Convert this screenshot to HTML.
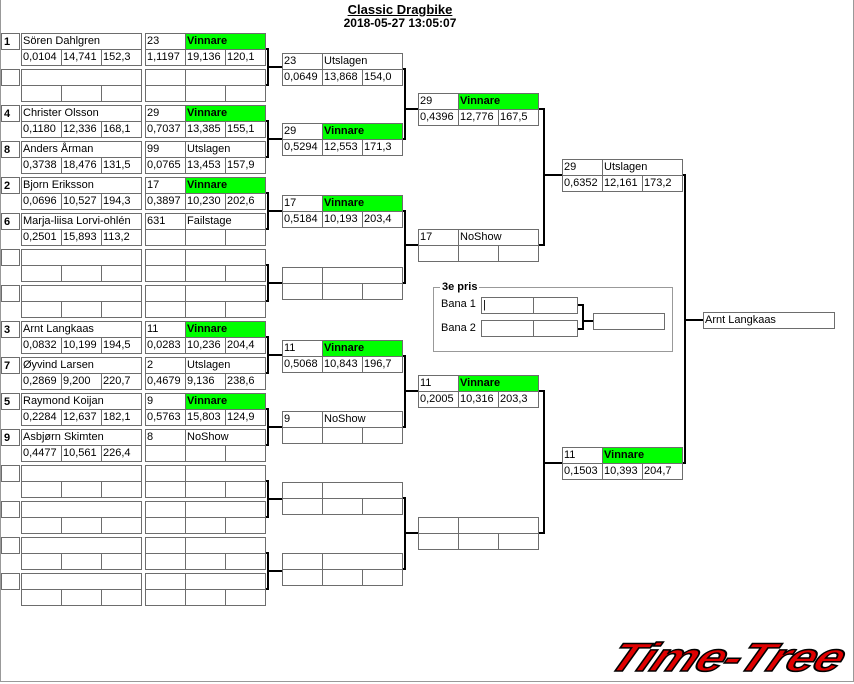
<!DOCTYPE html>
<html><head><meta charset="utf-8"><style>
body{margin:0;width:854px;height:684px;position:relative;background:#fff;font-family:"Liberation Sans",sans-serif;font-size:11px;overflow:hidden}
.fr{position:absolute;left:0;top:0;width:852px;height:681px;border-left:1px solid #999;border-right:1px solid #999;border-bottom:1px solid #999}
table{position:absolute;border-collapse:collapse;table-layout:fixed;width:121px}
col{width:40px}
td{border:1px solid #6d6d6d;height:15px;padding:0 0 0 1px;white-space:nowrap;overflow:hidden;line-height:15px}
td.g{background:#00ff00;font-weight:bold}
.s{position:absolute;left:1px;border:1px solid #6d6d6d;font-weight:bold;line-height:16px;padding-left:2px;box-sizing:border-box;width:19px;height:17px}
.t{position:absolute;left:0;width:800px;text-align:center;font-weight:bold;font-size:12px}
svg{position:absolute;left:0;top:0}
</style></head><body>
<div class="fr"></div>
<div class="t" style="top:2px;text-decoration:underline;font-size:13px">Classic Dragbike</div>
<div class="t" style="top:16px">2018-05-27 13:05:07</div>
<svg width="854" height="684">
<g stroke="#000" stroke-width="2" fill="none">
<path d="M266 49H268V85H266M268 67H282"/>
<path d="M266 121H268V157H266M268 139H282"/>
<path d="M266 193H268V229H266M268 211H282"/>
<path d="M266 265H268V301H266M268 283H282"/>
<path d="M266 337H268V373H266M268 355H282"/>
<path d="M266 409H268V445H266M268 427H282"/>
<path d="M266 481H268V517H266M268 499H282"/>
<path d="M266 553H268V589H266M268 571H282"/>
<path d="M402 69H405V139H402M405 109H418"/>
<path d="M402 211H405V283H402M405 245H418"/>
<path d="M402 356H405V427H402M405 391H418"/>
<path d="M402 498H405V569H402M405 533H418"/>
<path d="M538 109H544V245H538M544 175H562"/>
<path d="M538 391H544V533H538M544 463H562"/>
<path d="M682 175H685V463H682M685 320H703"/>
<path d="M578 305H583V329H578M583 321H593"/>
</g>
<rect x="433.5" y="287.5" width="239" height="64" fill="none" stroke="#999"/>
</svg>
<div style="position:absolute;left:440px;top:281px;background:#fff;font-weight:bold;font-size:11px;padding:0 2px">3e pris</div>
<div style="position:absolute;left:441px;top:298px">Bana 1</div>
<div style="position:absolute;left:441px;top:322px">Bana 2</div>
<table style="left:481px;top:297px;width:97px"><colgroup><col style="width:48px"><col></colgroup><tr><td>|</td><td></td></tr></table>
<table style="left:481px;top:320px;width:97px"><colgroup><col style="width:48px"><col></colgroup><tr><td></td><td></td></tr></table>
<table style="left:593px;top:313px;width:72px"><tr><td></td></tr></table>
<table style="left:703px;top:312px;width:132px"><tr><td>Arnt Langkaas</td></tr></table>

<div class="s" style="top:33px">1</div><div class="s" style="top:69px"></div>
<div class="s" style="top:105px">4</div><div class="s" style="top:141px">8</div>
<div class="s" style="top:177px">2</div><div class="s" style="top:213px">6</div>
<div class="s" style="top:249px"></div><div class="s" style="top:285px"></div>
<div class="s" style="top:321px">3</div><div class="s" style="top:357px">7</div>
<div class="s" style="top:393px">5</div><div class="s" style="top:429px">9</div>
<div class="s" style="top:465px"></div><div class="s" style="top:501px"></div>
<div class="s" style="top:537px"></div><div class="s" style="top:573px"></div>

<table style="left:21px;top:33px"><colgroup><col><col><col></colgroup><tr><td colspan="3">Sören Dahlgren</td></tr><tr><td>0,0104</td><td>14,741</td><td>152,3</td></tr></table>
<table style="left:21px;top:69px"><colgroup><col><col><col></colgroup><tr><td colspan="3"></td></tr><tr><td></td><td></td><td></td></tr></table>
<table style="left:21px;top:105px"><colgroup><col><col><col></colgroup><tr><td colspan="3">Christer Olsson</td></tr><tr><td>0,1180</td><td>12,336</td><td>168,1</td></tr></table>
<table style="left:21px;top:141px"><colgroup><col><col><col></colgroup><tr><td colspan="3">Anders Årman</td></tr><tr><td>0,3738</td><td>18,476</td><td>131,5</td></tr></table>
<table style="left:21px;top:177px"><colgroup><col><col><col></colgroup><tr><td colspan="3">Bjorn Eriksson</td></tr><tr><td>0,0696</td><td>10,527</td><td>194,3</td></tr></table>
<table style="left:21px;top:213px"><colgroup><col><col><col></colgroup><tr><td colspan="3">Marja-liisa Lorvi-ohlén</td></tr><tr><td>0,2501</td><td>15,893</td><td>113,2</td></tr></table>
<table style="left:21px;top:249px"><colgroup><col><col><col></colgroup><tr><td colspan="3"></td></tr><tr><td></td><td></td><td></td></tr></table>
<table style="left:21px;top:285px"><colgroup><col><col><col></colgroup><tr><td colspan="3"></td></tr><tr><td></td><td></td><td></td></tr></table>
<table style="left:21px;top:321px"><colgroup><col><col><col></colgroup><tr><td colspan="3">Arnt Langkaas</td></tr><tr><td>0,0832</td><td>10,199</td><td>194,5</td></tr></table>
<table style="left:21px;top:357px"><colgroup><col><col><col></colgroup><tr><td colspan="3">Øyvind Larsen</td></tr><tr><td>0,2869</td><td>9,200</td><td>220,7</td></tr></table>
<table style="left:21px;top:393px"><colgroup><col><col><col></colgroup><tr><td colspan="3">Raymond Koijan</td></tr><tr><td>0,2284</td><td>12,637</td><td>182,1</td></tr></table>
<table style="left:21px;top:429px"><colgroup><col><col><col></colgroup><tr><td colspan="3">Asbjørn Skimten</td></tr><tr><td>0,4477</td><td>10,561</td><td>226,4</td></tr></table>
<table style="left:21px;top:465px"><colgroup><col><col><col></colgroup><tr><td colspan="3"></td></tr><tr><td></td><td></td><td></td></tr></table>
<table style="left:21px;top:501px"><colgroup><col><col><col></colgroup><tr><td colspan="3"></td></tr><tr><td></td><td></td><td></td></tr></table>
<table style="left:21px;top:537px"><colgroup><col><col><col></colgroup><tr><td colspan="3"></td></tr><tr><td></td><td></td><td></td></tr></table>
<table style="left:21px;top:573px"><colgroup><col><col><col></colgroup><tr><td colspan="3"></td></tr><tr><td></td><td></td><td></td></tr></table>

<table style="left:145px;top:33px"><colgroup><col><col><col></colgroup><tr><td>23</td><td colspan="2" class="g">Vinnare</td></tr><tr><td>1,1197</td><td>19,136</td><td>120,1</td></tr></table>
<table style="left:145px;top:69px"><colgroup><col><col><col></colgroup><tr><td></td><td colspan="2"></td></tr><tr><td></td><td></td><td></td></tr></table>
<table style="left:145px;top:105px"><colgroup><col><col><col></colgroup><tr><td>29</td><td colspan="2" class="g">Vinnare</td></tr><tr><td>0,7037</td><td>13,385</td><td>155,1</td></tr></table>
<table style="left:145px;top:141px"><colgroup><col><col><col></colgroup><tr><td>99</td><td colspan="2">Utslagen</td></tr><tr><td>0,0765</td><td>13,453</td><td>157,9</td></tr></table>
<table style="left:145px;top:177px"><colgroup><col><col><col></colgroup><tr><td>17</td><td colspan="2" class="g">Vinnare</td></tr><tr><td>0,3897</td><td>10,230</td><td>202,6</td></tr></table>
<table style="left:145px;top:213px"><colgroup><col><col><col></colgroup><tr><td>631</td><td colspan="2">Failstage</td></tr><tr><td></td><td></td><td></td></tr></table>
<table style="left:145px;top:249px"><colgroup><col><col><col></colgroup><tr><td></td><td colspan="2"></td></tr><tr><td></td><td></td><td></td></tr></table>
<table style="left:145px;top:285px"><colgroup><col><col><col></colgroup><tr><td></td><td colspan="2"></td></tr><tr><td></td><td></td><td></td></tr></table>
<table style="left:145px;top:321px"><colgroup><col><col><col></colgroup><tr><td>11</td><td colspan="2" class="g">Vinnare</td></tr><tr><td>0,0283</td><td>10,236</td><td>204,4</td></tr></table>
<table style="left:145px;top:357px"><colgroup><col><col><col></colgroup><tr><td>2</td><td colspan="2">Utslagen</td></tr><tr><td>0,4679</td><td>9,136</td><td>238,6</td></tr></table>
<table style="left:145px;top:393px"><colgroup><col><col><col></colgroup><tr><td>9</td><td colspan="2" class="g">Vinnare</td></tr><tr><td>0,5763</td><td>15,803</td><td>124,9</td></tr></table>
<table style="left:145px;top:429px"><colgroup><col><col><col></colgroup><tr><td>8</td><td colspan="2">NoShow</td></tr><tr><td></td><td></td><td></td></tr></table>
<table style="left:145px;top:465px"><colgroup><col><col><col></colgroup><tr><td></td><td colspan="2"></td></tr><tr><td></td><td></td><td></td></tr></table>
<table style="left:145px;top:501px"><colgroup><col><col><col></colgroup><tr><td></td><td colspan="2"></td></tr><tr><td></td><td></td><td></td></tr></table>
<table style="left:145px;top:537px"><colgroup><col><col><col></colgroup><tr><td></td><td colspan="2"></td></tr><tr><td></td><td></td><td></td></tr></table>
<table style="left:145px;top:573px"><colgroup><col><col><col></colgroup><tr><td></td><td colspan="2"></td></tr><tr><td></td><td></td><td></td></tr></table>

<table style="left:282px;top:53px"><colgroup><col><col><col></colgroup><tr><td>23</td><td colspan="2">Utslagen</td></tr><tr><td>0,0649</td><td>13,868</td><td>154,0</td></tr></table>
<table style="left:282px;top:123px"><colgroup><col><col><col></colgroup><tr><td>29</td><td colspan="2" class="g">Vinnare</td></tr><tr><td>0,5294</td><td>12,553</td><td>171,3</td></tr></table>
<table style="left:282px;top:195px"><colgroup><col><col><col></colgroup><tr><td>17</td><td colspan="2" class="g">Vinnare</td></tr><tr><td>0,5184</td><td>10,193</td><td>203,4</td></tr></table>
<table style="left:282px;top:267px"><colgroup><col><col><col></colgroup><tr><td></td><td colspan="2"></td></tr><tr><td></td><td></td><td></td></tr></table>
<table style="left:282px;top:340px"><colgroup><col><col><col></colgroup><tr><td>11</td><td colspan="2" class="g">Vinnare</td></tr><tr><td>0,5068</td><td>10,843</td><td>196,7</td></tr></table>
<table style="left:282px;top:411px"><colgroup><col><col><col></colgroup><tr><td>9</td><td colspan="2">NoShow</td></tr><tr><td></td><td></td><td></td></tr></table>
<table style="left:282px;top:482px"><colgroup><col><col><col></colgroup><tr><td></td><td colspan="2"></td></tr><tr><td></td><td></td><td></td></tr></table>
<table style="left:282px;top:553px"><colgroup><col><col><col></colgroup><tr><td></td><td colspan="2"></td></tr><tr><td></td><td></td><td></td></tr></table>

<table style="left:418px;top:93px"><colgroup><col><col><col></colgroup><tr><td>29</td><td colspan="2" class="g">Vinnare</td></tr><tr><td>0,4396</td><td>12,776</td><td>167,5</td></tr></table>
<table style="left:418px;top:229px"><colgroup><col><col><col></colgroup><tr><td>17</td><td colspan="2">NoShow</td></tr><tr><td></td><td></td><td></td></tr></table>
<table style="left:418px;top:375px"><colgroup><col><col><col></colgroup><tr><td>11</td><td colspan="2" class="g">Vinnare</td></tr><tr><td>0,2005</td><td>10,316</td><td>203,3</td></tr></table>
<table style="left:418px;top:517px"><colgroup><col><col><col></colgroup><tr><td></td><td colspan="2"></td></tr><tr><td></td><td></td><td></td></tr></table>

<table style="left:562px;top:159px"><colgroup><col><col><col></colgroup><tr><td>29</td><td colspan="2">Utslagen</td></tr><tr><td>0,6352</td><td>12,161</td><td>173,2</td></tr></table>
<table style="left:562px;top:447px"><colgroup><col><col><col></colgroup><tr><td>11</td><td colspan="2" class="g">Vinnare</td></tr><tr><td>0,1503</td><td>10,393</td><td>204,7</td></tr></table>

<div style="position:absolute;left:622px;top:636px;font-size:40px;font-weight:bold;font-style:italic;color:#e00000;letter-spacing:-1px;transform:scaleX(1.28) skewX(-20deg);transform-origin:left top;-webkit-text-stroke:1.5px #000;line-height:44px">Time-Tree</div>
</body></html>
